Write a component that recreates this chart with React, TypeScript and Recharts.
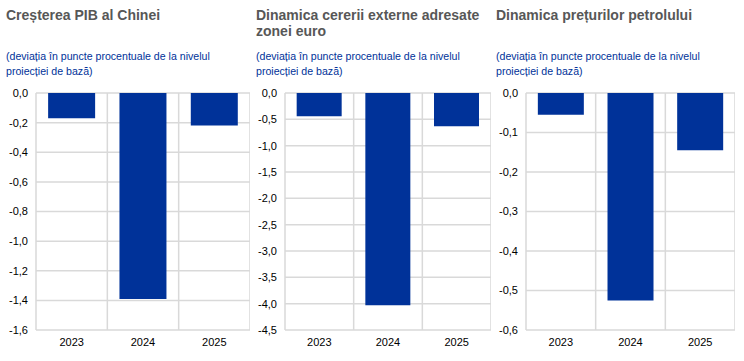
import React from 'react'
import { BarChart, Bar, XAxis, YAxis, CartesianGrid } from 'recharts'

const years = ['2023', '2024', '2025']
const chinaGdp = [-0.17, -1.39, -0.22]
const foreignDemand = [-0.44, -4.03, -0.63]
const oilPrices = [-0.055, -0.525, -0.145]

const chinaTicks = [0, -0.2, -0.4, -0.6, -0.8, -1.0, -1.2, -1.4, -1.6]
const demandTicks = [0, -0.5, -1.0, -1.5, -2.0, -2.5, -3.0, -3.5, -4.0, -4.5]
const oilTicks = [0, -0.1, -0.2, -0.3, -0.4, -0.5, -0.6]

const FONT = 'Liberation Sans, Arial, sans-serif'
const BLUE = '#003299'
const GRID = '#d9d9d9'
const subtitle = ['(deviația în puncte procentuale de la nivelul', 'proiecției de bază)']

const fmt = (v: number) => v.toFixed(1).replace('.', ',')

interface PanelProps {
  left: number
  width: number
  axisWidth: number
  title: string[]
  values: number[]
  ticks: number[]
}

function Panel({ left, width, axisWidth, title, values, ticks }: PanelProps) {
  const data = years.map((year, i) => ({ year, value: values[i] }))
  return (
    <div style={{ position: 'absolute', left, top: 0, width, height: 361 }}>
      <div
        style={{
          position: 'absolute',
          left: 6,
          top: 7,
          fontFamily: FONT,
          fontWeight: 'bold',
          fontSize: 14,
          lineHeight: '16px',
          color: '#575757',
          whiteSpace: 'nowrap',
        }}
      >
        {title.map((line) => (
          <div key={line}>{line}</div>
        ))}
      </div>
      <div
        style={{
          position: 'absolute',
          left: 6,
          top: 49,
          fontFamily: FONT,
          fontSize: 10.6,
          lineHeight: '15px',
          color: BLUE,
          whiteSpace: 'nowrap',
        }}
      >
        {subtitle.map((line) => (
          <div key={line}>{line}</div>
        ))}
      </div>
      <BarChart
        width={width}
        height={361}
        data={data}
        margin={{ top: 93, right: 0, bottom: 0, left: 0 }}
        barCategoryGap="17%"
        style={{ position: 'absolute', left: 0, top: 0 }}
      >
        <CartesianGrid
          stroke={GRID}
          strokeWidth={1.5}
          verticalCoordinatesGenerator={({ offset }: any) =>
            [0, 1, 2, 3].map((i) => offset.left + (i * offset.width) / years.length)
          }
        />
        <XAxis
          dataKey="year"
          tickLine={false}
          axisLine={false}
          height={31}
          tick={{ fontSize: 11, fill: '#000', fontFamily: FONT }}
        />
        <YAxis
          width={axisWidth}
          domain={[ticks[ticks.length - 1], 0]}
          ticks={ticks}
          interval={0}
          tickFormatter={fmt}
          tickLine={false}
          axisLine={false}
          tick={{ fontSize: 11, fill: '#000', fontFamily: FONT }}
        />
        <Bar dataKey="value" fill={BLUE} isAnimationActive={false} />
      </BarChart>
    </div>
  )
}

export default function App() {
  return (
    <div style={{ position: 'absolute', left: 0, top: 0, width: 744, height: 361, background: '#fff' }}>
      <Panel left={0} width={250} axisWidth={36} title={['Creșterea PIB al Chinei']} values={chinaGdp} ticks={chinaTicks} />
      <Panel
        left={250}
        width={241}
        axisWidth={35}
        title={['Dinamica cererii externe adresate', 'zonei euro']}
        values={foreignDemand}
        ticks={demandTicks}
      />
      <Panel left={490} width={245} axisWidth={36} title={['Dinamica prețurilor petrolului']} values={oilPrices} ticks={oilTicks} />
    </div>
  )
}
